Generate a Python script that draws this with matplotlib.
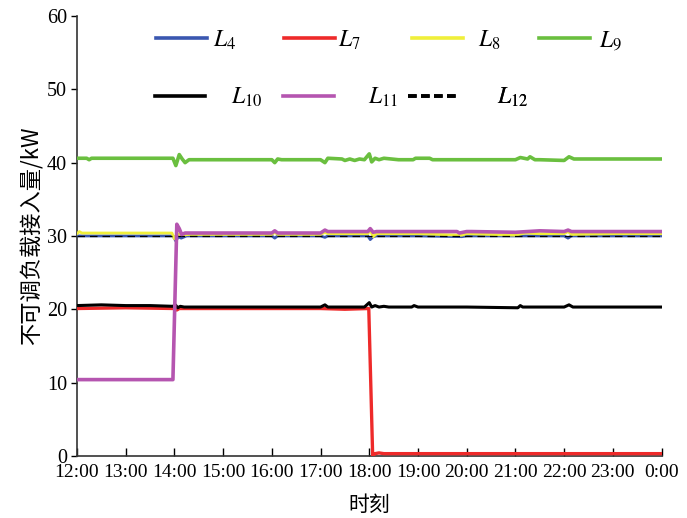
import matplotlib.pyplot as plt
from matplotlib.lines import Line2D

plt.rcParams['font.family'] = ['Liberation Serif', 'Noto Sans CJK SC']
plt.rcParams['mathtext.fontset'] = 'stix'

# time in hours after 12:00
tick_labels = ['12:00', '13:00', '14:00', '15:00', '16:00', '17:00', '18:00',
               '19:00', '20:00', '21:00', '22:00', '23:00', '0:00']

t4 = [0, 1.0, 1.97, 2.03, 2.08, 2.14, 2.25, 3.0, 4.0, 4.06, 4.12, 5.0, 5.09, 5.15, 5.5, 5.97, 6.02, 6.08, 6.15, 7.0, 7.9, 8.0, 9.0, 10.0, 10.08, 10.15, 11.0, 12.0]
v4 = [30.0, 30.0, 30.0, 29.3, 29.9, 29.7, 30.0, 30.0, 30.0, 29.7, 30.0, 30.0, 29.8, 30.0, 30.0, 30.0, 29.5, 29.9, 30.0, 30.0, 29.9, 30.0, 30.0, 30.0, 29.7, 30.0, 30.0, 30.0]

t7 = [0, 1.0, 2.0, 2.05, 2.1, 3.0, 4.0, 5.0, 5.5, 5.99, 6.07, 6.12, 6.2, 6.3, 7.0, 8.0, 9.0, 10.0, 11.0, 12.0]
v7 = [20.1, 20.2, 20.1, 19.9, 20.1, 20.1, 20.1, 20.1, 20.0, 20.1, 0.0, 0.3, 0.4, 0.3, 0.3, 0.3, 0.3, 0.3, 0.3, 0.3]

t8 = [0, 0.05, 0.1, 1.0, 1.95, 2.0, 2.06, 2.15, 2.3, 3.0, 4.0, 4.06, 4.12, 5.0, 5.09, 5.15, 5.5, 5.97, 6.02, 6.08, 6.15, 7.0, 7.9, 8.0, 9.0, 9.2, 9.5, 10.0, 10.08, 10.15, 11.0, 12.0]
v8 = [30.3, 30.6, 30.4, 30.4, 30.4, 29.6, 30.3, 30.1, 30.2, 30.2, 30.2, 30.5, 30.2, 30.2, 30.5, 30.3, 30.3, 30.3, 30.8, 29.9, 30.3, 30.3, 30.1, 30.3, 30.1, 30.4, 30.3, 30.3, 30.6, 30.2, 30.3, 30.3]

t9 = [0, 0.2, 0.25, 0.3, 1.0, 1.97, 2.03, 2.1, 2.16, 2.22, 2.3, 3.0, 4.0, 4.06, 4.12, 4.2, 5.0, 5.09, 5.15, 5.44, 5.5, 5.6, 5.7, 5.8, 5.9, 6.0, 6.05, 6.12, 6.2, 6.3, 6.6, 6.9, 6.95, 7.24, 7.3, 8.0, 9.0, 9.1, 9.25, 9.3, 9.4, 9.5, 10.0, 10.1, 10.2, 11.0, 12.0]
v9 = [40.6, 40.6, 40.4, 40.6, 40.6, 40.6, 39.6, 41.1, 40.5, 40.0, 40.4, 40.4, 40.4, 40.0, 40.5, 40.4, 40.4, 40.0, 40.6, 40.5, 40.3, 40.5, 40.3, 40.5, 40.4, 41.2, 40.1, 40.6, 40.4, 40.6, 40.4, 40.4, 40.6, 40.6, 40.4, 40.4, 40.4, 40.7, 40.5, 40.8, 40.4, 40.4, 40.3, 40.8, 40.5, 40.5, 40.5]

t10 = [0, 0.5, 1.0, 1.5, 1.97, 2.02, 2.07, 2.12, 2.2, 3.0, 4.0, 5.0, 5.09, 5.15, 5.9, 6.0, 6.05, 6.12, 6.2, 6.3, 6.4, 6.87, 6.92, 7.0, 8.0, 9.05, 9.1, 9.15, 10.0, 10.1, 10.18, 11.0, 12.0]
v10 = [20.5, 20.6, 20.5, 20.5, 20.4, 20.6, 20.2, 20.4, 20.3, 20.3, 20.3, 20.3, 20.6, 20.3, 20.3, 20.9, 20.3, 20.5, 20.3, 20.4, 20.3, 20.3, 20.5, 20.3, 20.3, 20.2, 20.5, 20.3, 20.3, 20.6, 20.3, 20.3, 20.3]

t11 = [0, 0.5, 1.0, 1.5, 1.97, 2.05, 2.1, 2.15, 2.22, 3.0, 4.0, 4.06, 4.12, 5.0, 5.09, 5.15, 5.5, 5.97, 6.02, 6.08, 6.15, 7.0, 7.8, 7.85, 8.0, 8.1, 9.0, 9.5, 10.0, 10.08, 10.15, 11.0, 12.0]
v11 = [10.4, 10.4, 10.4, 10.4, 10.4, 31.6, 31.0, 30.2, 30.4, 30.4, 30.4, 30.7, 30.4, 30.4, 30.8, 30.6, 30.6, 30.6, 31.0, 30.5, 30.6, 30.6, 30.6, 30.4, 30.6, 30.6, 30.5, 30.7, 30.6, 30.8, 30.6, 30.6, 30.6]

t12 = [0, 12.0]
v12 = [30.0, 30.0]

fig = plt.figure(figsize=(6.87, 5.18), dpi=100)
ax = fig.add_axes([0.112, 0.12, 0.851, 0.849])

ax.plot(t7, v7, color='#ee2a2a', lw=2.4, zorder=3)
ax.plot(t10, v10, color='black', lw=2.2, zorder=4)
ax.plot(t4, v4, color='#3a57b0', lw=2.0, zorder=3)
ax.plot(t12, v12, color='black', lw=0.9, ls=(0, (6, 4)), zorder=5)
ax.plot(t8, v8, color='#f0ef3a', lw=2.0, zorder=4)
ax.plot(t11, v11, color='#b555b0', lw=2.6, zorder=5)
ax.plot(t9, v9, color='#6abf3f', lw=2.6, zorder=3)

ax.set_xlim(0, 12)
ax.set_ylim(0, 60)
ax.set_xticks(range(13))
ax.set_xticklabels(tick_labels)
ax.set_yticks(range(0, 61, 10))
ax.tick_params(axis='x', direction='in', labelsize=14, length=6, width=1, pad=6)
ax.tick_params(axis='y', direction='out', labelsize=14.5, length=4, width=1, pad=3)
ax.spines['top'].set_visible(False)
ax.spines['right'].set_visible(False)
for s in ['left', 'bottom']:
    ax.spines[s].set_linewidth(1.2)
    ax.spines[s].set_color('#333333')

ax.set_xlabel('时刻', fontsize=15, family=['Noto Sans CJK SC'], labelpad=9)
ax.set_ylabel('不可调负载接入量/kW', fontsize=16, family=['Noto Sans CJK SC', 'Liberation Serif'], labelpad=3)

# legend, one entry at a time: (label, colour, style, x, y, gap)
leg_entries = [
    ('$L_4$', '#3a57b0', '-', 0.135, 0.945, 0.25),
    ('$L_7$', '#ee2a2a', '-', 0.354, 0.945, 0.15),
    ('$L_8$', '#f0ef3a', '-', 0.573, 0.945, 0.65),
    ('$L_9$', '#6abf3f', '-', 0.790, 0.945, 0.4),
    ('$L_{10}$', 'black', '-', 0.133, 0.815, 1.1),
    ('$L_{11}$', '#b555b0', '-', 0.352, 0.815, 1.45),
    ('$L_{12}$', 'black', (0, (2.4, 1.2)), 0.567, 0.815, 1.6),
]
for lab, col, ls, x, y, gap in leg_entries:
    hnd = Line2D([], [], color=col, lw=2.6, ls=ls)
    lg = ax.legend([hnd], [lab], loc='center left', bbox_to_anchor=(x, y),
                   frameon=False, fontsize=17, handlelength=2.15,
                   handletextpad=gap, borderpad=0, borderaxespad=0)
    ax.add_artist(lg)

fig.savefig('out.png', dpi=100)
